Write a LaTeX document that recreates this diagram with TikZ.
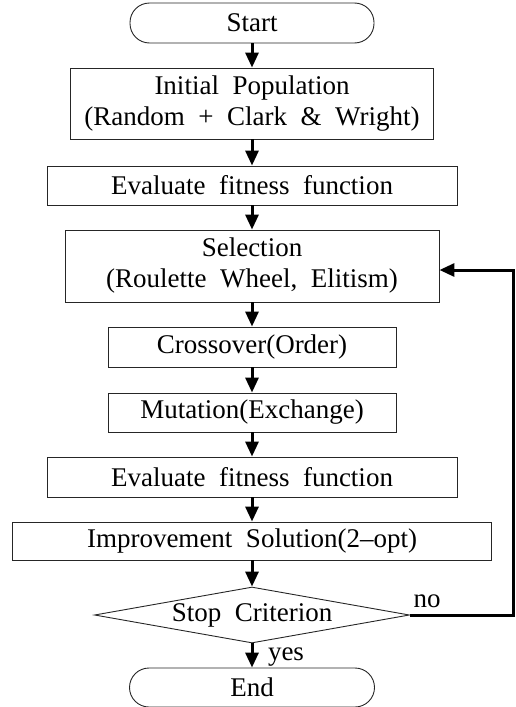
\documentclass[tikz,border=0pt]{standalone}
\usepackage{fontspec}
\setmainfont{Liberation Serif}[WordSpace=2.0]
\usetikzlibrary{shapes.geometric,arrows.meta}
\begin{document}
\begin{tikzpicture}[x=1pt,y=-1pt,
  every node/.style={font=\fontsize{27}{31}\selectfont, text=black},
  procbox/.style={draw=black!85, line width=0.9pt, inner sep=0pt, align=center},
  termbox/.style={draw=black!85, line width=0.9pt, inner sep=0pt, rounded corners=19.5pt},
  decbox/.style={draw=black!85, line width=0.9pt, diamond, inner sep=0pt, aspect=5.6},
  flow/.style={line width=3pt, line join=miter, -{Triangle[width=13pt,length=15pt]}},
  lab/.style={anchor=base, inner sep=0pt}]
\useasboundingbox (0,0) rectangle (515,707);
\node[termbox, minimum width=244pt, minimum height=40pt] (start) at (252,23) {Start};
\node[procbox, minimum width=363pt, minimum height=71pt] (init) at (252,103.5) {Initial Population\\(Random + Clark \& Wright)};
\node[procbox, minimum width=410pt, minimum height=39pt] (eval1) at (252,185.5) {Evaluate fitness function};
\node[procbox, minimum width=374pt, minimum height=72pt] (sel) at (252,266) {Selection\\(Roulette Wheel, Elitism)};
\node[procbox, minimum width=288pt, minimum height=40pt] (cross) at (252,347) {Crossover(Order)};
\node[procbox, minimum width=288pt, minimum height=39pt] (mut) at (252,412.5) {Mutation(Exchange)};
\node[procbox, minimum width=410pt, minimum height=40pt] (eval2) at (252,477) {Evaluate fitness function};
\node[procbox, minimum width=479pt, minimum height=38pt] (impr) at (252,541) {Improvement Solution(2\textendash opt)};
\node[decbox, minimum width=315pt, minimum height=56pt] (stop) at (252,615) {Stop Criterion};
\node[termbox, minimum width=245pt, minimum height=39pt] (end) at (252,687.5) {End};
\coordinate (fb) at (513,615);
\draw[flow] (start) -- (init);
\draw[flow] (init) -- (eval1);
\draw[flow] (eval1) -- (sel);
\draw[flow] (sel) -- (cross);
\draw[flow] (cross) -- (mut);
\draw[flow] (mut) -- (eval2);
\draw[flow] (eval2) -- (impr);
\draw[flow] (impr) -- (stop);
\draw[flow] (stop) -- (end);
\draw[flow] (stop.east) -- (fb) |- ([yshift=-4pt]sel.east);
\node[lab] (no) at (427,607) {no};
\node[lab] (yes) at (286,660) {yes};
\end{tikzpicture}
\end{document}
